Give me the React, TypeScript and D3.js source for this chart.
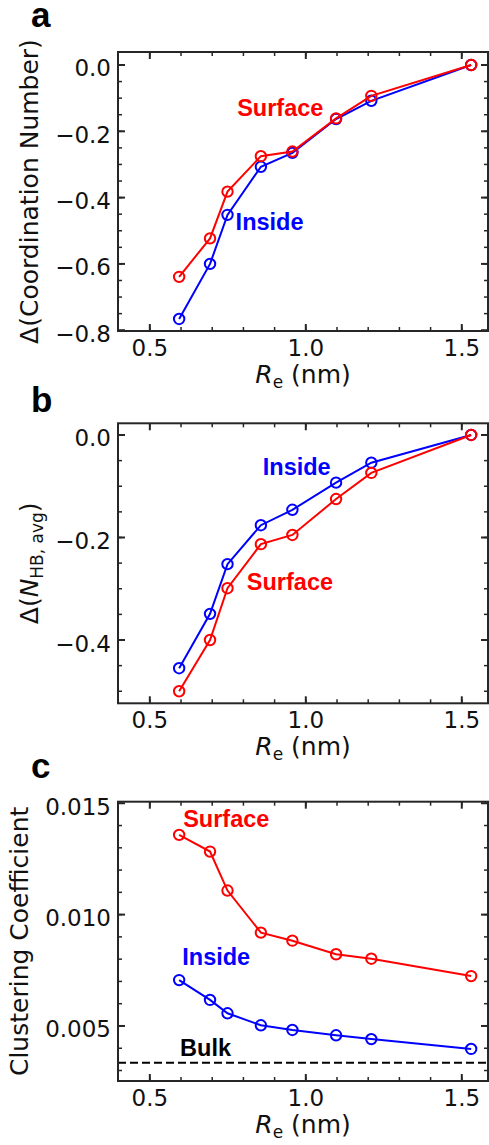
import React from "react";
import * as d3 from "d3";

// R_e (nm) of the eight clusters
const re = [0.594, 0.693, 0.749, 0.856, 0.957, 1.097, 1.21, 1.53];

// panel a: change in coordination number
const cnSurface = [-0.639, -0.523, -0.382, -0.275, -0.261, -0.161, -0.093, 0];
const cnInside = [-0.766, -0.6, -0.452, -0.307, -0.265, -0.163, -0.108, 0];

// panel b: change in average H-bond number
const hbInside = [-0.455, -0.349, -0.252, -0.176, -0.146, -0.093, -0.054, 0];
const hbSurface = [-0.5, -0.4, -0.299, -0.213, -0.195, -0.125, -0.074, 0];

// panel c: clustering coefficient
const ccSurface = [0.01358, 0.01283, 0.01108, 0.00919, 0.00883, 0.00822, 0.00802, 0.00724];
const ccInside = [0.00706, 0.00617, 0.00557, 0.00503, 0.00482, 0.00458, 0.00441, 0.00397];
const ccBulk = 0.00335;

// tick labels
const xTicks = [0.5, 1.0, 1.5];
const aYTicks = [0, -0.2, -0.4, -0.6, -0.8];
const bYTicks = [0, -0.2, -0.4];
const cYTicks = [0.005, 0.01, 0.015];

const RED = "#ff0000";
const BLUE = "#0000ff";
const AXIS = "#262626";
const TICK_FONT = "'DejaVu Sans', sans-serif";
const LABEL_FONT = "'Liberation Sans', Arial, sans-serif";

const LEFT = 118;
const RIGHT = 488;

const x = d3.scaleLinear().domain([0.398, 1.584]).range([LEFT, RIGHT]);
const xMinor = d3.range(4, 16).map((i) => i / 10);

type Series = { values: number[]; color: string };
type Note = { text: string; x: number; y: number; color: string };

type PanelProps = {
  letter: string;
  letterY: number;
  top: number;
  bottom: number;
  yDomain: [number, number];
  yTicks: number[];
  yMinor: number[];
  fmt: (v: number) => string;
  series: Series[];
  notes: Note[];
  titleX: number;
  yTitle: React.ReactNode;
  bulk?: number;
};

const Panel = (p: PanelProps) => {
  const y = d3.scaleLinear().domain(p.yDomain).range([p.bottom, p.top]);
  const line = d3
    .line<number>()
    .x((_, i) => x(re[i]))
    .y((d) => y(d));
  const midY = (p.top + p.bottom) / 2;
  const inX = (v: number) => x(v) > LEFT + 1 && x(v) < RIGHT - 1;
  const inY = (v: number) => y(v) > p.top + 1 && y(v) < p.bottom - 1;

  return (
    <g>
      <text
        x={31}
        y={p.letterY}
        fontFamily={LABEL_FONT}
        fontWeight="bold"
        fontSize={35}
        fill="#000"
      >
        {p.letter}
      </text>

      {p.bulk !== undefined && (
        <line
          x1={LEFT}
          x2={RIGHT}
          y1={y(p.bulk)}
          y2={y(p.bulk)}
          stroke="#000"
          strokeWidth={2}
          strokeDasharray="8,4"
        />
      )}

      {p.series.map((s, k) => (
        <g key={k}>
          <path d={line(s.values) || ""} fill="none" stroke={s.color} strokeWidth={2} />
          {s.values.map((v, i) => (
            <circle
              key={i}
              cx={x(re[i])}
              cy={y(v)}
              r={5.2}
              fill="none"
              stroke={s.color}
              strokeWidth={2}
            />
          ))}
        </g>
      ))}

      {p.notes.map((n, k) => (
        <text
          key={k}
          x={x(n.x)}
          y={y(n.y)}
          fill={n.color}
          fontFamily={LABEL_FONT}
          fontWeight="bold"
          fontSize={23.5}
        >
          {n.text}
        </text>
      ))}

      {/* ticks, inward on all four sides */}
      {xMinor.filter(inX).map((v) => (
        <g key={"xm" + v} stroke={AXIS} strokeWidth={1.5}>
          <line x1={x(v)} x2={x(v)} y1={p.bottom} y2={p.bottom - 4} />
          <line x1={x(v)} x2={x(v)} y1={p.top} y2={p.top + 4} />
        </g>
      ))}
      {xTicks.map((v) => (
        <g key={"x" + v}>
          <line x1={x(v)} x2={x(v)} y1={p.bottom} y2={p.bottom - 7} stroke={AXIS} strokeWidth={2} />
          <line x1={x(v)} x2={x(v)} y1={p.top} y2={p.top + 7} stroke={AXIS} strokeWidth={2} />
          <text
            x={x(v)}
            y={p.bottom + 25}
            textAnchor="middle"
            fontFamily={TICK_FONT}
            fontSize={23}
            fill="#111"
          >
            {d3.format(".1f")(v)}
          </text>
        </g>
      ))}
      {p.yMinor.filter(inY).map((v) => (
        <g key={"ym" + v} stroke={AXIS} strokeWidth={1.5}>
          <line x1={LEFT} x2={LEFT + 4} y1={y(v)} y2={y(v)} />
          <line x1={RIGHT} x2={RIGHT - 4} y1={y(v)} y2={y(v)} />
        </g>
      ))}
      {p.yTicks.map((v) => (
        <g key={"y" + v}>
          <line x1={LEFT} x2={LEFT + 7} y1={y(v)} y2={y(v)} stroke={AXIS} strokeWidth={2} />
          <line x1={RIGHT} x2={RIGHT - 7} y1={y(v)} y2={y(v)} stroke={AXIS} strokeWidth={2} />
          <text
            x={LEFT - 7}
            y={y(v)}
            dy="0.5em"
            textAnchor="end"
            fontFamily={TICK_FONT}
            fontSize={23}
            fill="#111"
          >
            {p.fmt(v)}
          </text>
        </g>
      ))}

      <rect
        x={LEFT}
        y={p.top}
        width={RIGHT - LEFT}
        height={p.bottom - p.top}
        fill="none"
        stroke={AXIS}
        strokeWidth={2}
      />

      <text
        x={(LEFT + RIGHT) / 2}
        y={p.bottom + 52}
        textAnchor="middle"
        fontFamily={TICK_FONT}
        fontSize={25}
        fill="#111"
      >
        <tspan fontStyle="italic">R</tspan>
        <tspan fontSize={17} dy={5}>e</tspan>
        <tspan dy={-5}> (nm)</tspan>
      </text>

      <text
        transform={`translate(${p.titleX},${midY}) rotate(-90)`}
        textAnchor="middle"
        fontFamily={TICK_FONT}
        fontSize={25}
        fill="#111"
      >
        {p.yTitle}
      </text>
    </g>
  );
};

const App = () => {
  const f1 = d3.format(".1f");
  const f3 = d3.format(".3f");
  return (
    <svg
      width={489}
      height={1145}
      style={{ position: "absolute", left: 0, top: 0, background: "#fff" }}
    >
      <Panel
        letter="a"
        letterY={27}
        top={52}
        bottom={331}
        yDomain={[-0.8024, 0.0392]}
        yTicks={aYTicks}
        yMinor={d3.range(0, 17).map((i) => -0.8 + i * 0.05)}
        fmt={f1}
        series={[
          { values: cnInside, color: BLUE },
          { values: cnSurface, color: RED },
        ]}
        notes={[
          { text: "Surface", x: 0.78, y: -0.154, color: RED },
          { text: "Inside", x: 0.775, y: -0.498, color: BLUE },
        ]}
        titleX={38}
        yTitle={"Δ(Coordination Number)"}
      />
      <Panel
        letter="b"
        letterY={412}
        top={423.3}
        bottom={703.3}
        yDomain={[-0.5235, 0.0228]}
        yTicks={bYTicks}
        yMinor={d3.range(0, 11).map((i) => -0.5 + i * 0.05)}
        fmt={f1}
        series={[
          { values: hbInside, color: BLUE },
          { values: hbSurface, color: RED },
        ]}
        notes={[
          { text: "Inside", x: 0.862, y: -0.078, color: BLUE },
          { text: "Surface", x: 0.811, y: -0.302, color: RED },
        ]}
        titleX={38}
        yTitle={
          <>
            <tspan>Δ(</tspan>
            <tspan fontStyle="italic">N</tspan>
            <tspan fontSize={17} dy={5}>HB, avg</tspan>
            <tspan dy={-5}>)</tspan>
          </>
        }
      />
      <Panel
        letter="c"
        letterY={778}
        top={801.7}
        bottom={1081}
        yDomain={[0.002529, 0.01507]}
        yTicks={cYTicks}
        yMinor={d3.range(3, 16).map((i) => i / 1000)}
        fmt={f3}
        series={[
          { values: ccInside, color: BLUE },
          { values: ccSurface, color: RED },
        ]}
        notes={[
          { text: "Surface", x: 0.607, y: 0.01394, color: RED },
          { text: "Inside", x: 0.604, y: 0.00774, color: BLUE },
          { text: "Bulk", x: 0.597, y: 0.00365, color: "#000" },
        ]}
        titleX={28}
        yTitle={"Clustering Coefficient"}
        bulk={ccBulk}
      />
    </svg>
  );
};

export default App;
